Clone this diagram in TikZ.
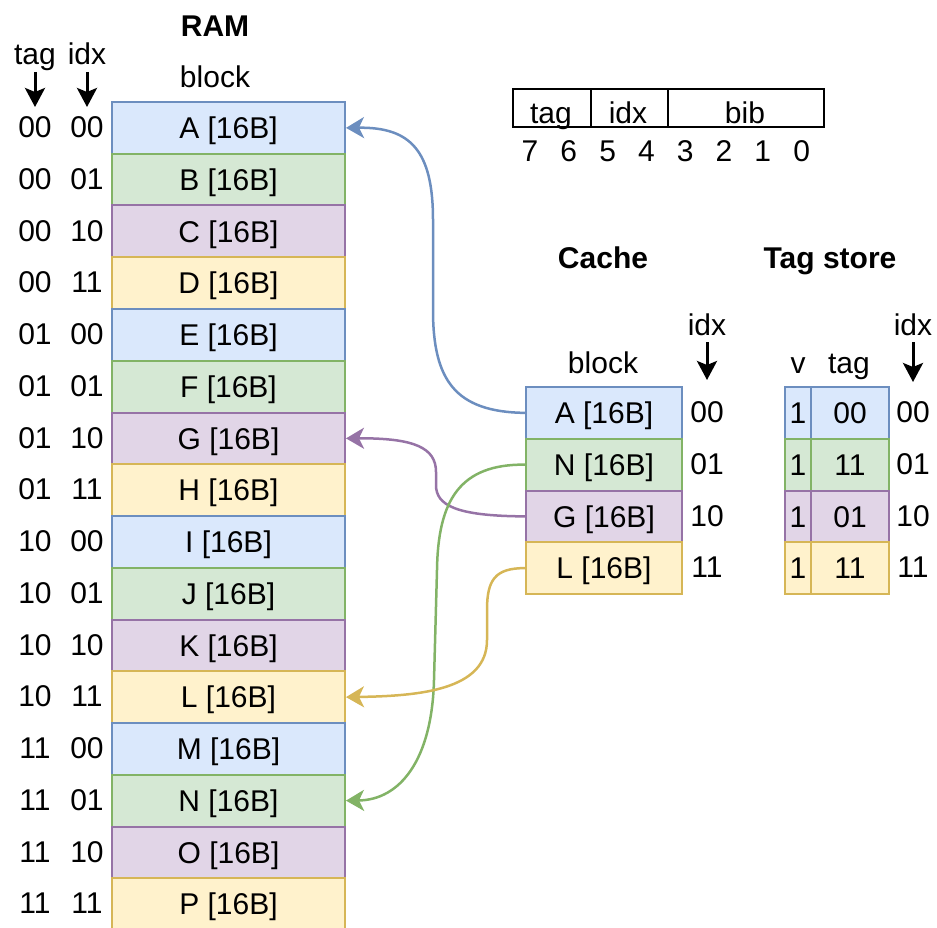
\documentclass[tikz,border=0pt]{standalone}
\usepackage{fontspec}
\setmainfont{Liberation Sans}
\usetikzlibrary{arrows.meta}
\definecolor{bluef}{HTML}{DAE8FC}\definecolor{bluel}{HTML}{6C8EBF}
\definecolor{greenf}{HTML}{D5E8D4}\definecolor{greenl}{HTML}{82B366}
\definecolor{purplef}{HTML}{E1D5E7}\definecolor{purplel}{HTML}{9673A6}
\definecolor{yellowf}{HTML}{FFF2CC}\definecolor{yellowl}{HTML}{D6B656}
\tikzset{
  cell/.style={rectangle, line width=2pt, inner sep=0pt, text height=21.5pt, text depth=0pt, anchor=north west},
  lbl/.style={inner sep=0pt, text height=21.5pt, text depth=0pt, anchor=center},
  txt/.style={inner sep=0pt, anchor=base},
  downarrow/.style={line width=3pt, -{Stealth[length=19pt,width=20pt,inset=4pt]}},
  link/.style={line width=2.5pt, -{Stealth[length=18pt,width=21pt,inset=5pt]}}
}
\begin{document}
\begin{tikzpicture}[x=1pt,y=-1pt,font=\fontsize{30}{36}\selectfont]
\useasboundingbox (0,0) rectangle (937,928);
% RAM header
\node[txt,font=\fontsize{30}{36}\selectfont\bfseries] (ramt) at (215,37) {RAM};
\node[txt] (ramb) at (215,88) {block};
\node[txt] (tagh) at (35,65) {tag};
\node[txt] (idxh) at (87,65) {idx};
\coordinate (tagA) at (35,72); \coordinate (tagB) at (35,107);
\coordinate (idxA) at (87,72); \coordinate (idxB) at (87,107);
\draw[downarrow] (tagA) -- (tagB);
\draw[downarrow] (idxA) -- (idxB);
% RAM rows
\foreach \n/\t/\d/\f/\l [count=\i from 0] in {
  A/00/00/bluef/bluel, B/00/01/greenf/greenl, C/00/10/purplef/purplel, D/00/11/yellowf/yellowl,
  E/01/00/bluef/bluel, F/01/01/greenf/greenl, G/01/10/purplef/purplel, H/01/11/yellowf/yellowl,
  I/10/00/bluef/bluel, J/10/01/greenf/greenl, K/10/10/purplef/purplel, L/10/11/yellowf/yellowl,
  M/11/00/bluef/bluel, N/11/01/greenf/greenl, O/11/10/purplef/purplel, P/11/11/yellowf/yellowl}{
  \pgfmathsetmacro\top{101+\i*51.75}
  \node[cell, fill=\f, draw=\l, minimum width=233pt, minimum height=51.75pt] (r\i) at (111,\top) {\n\ [16B]};
  \node[lbl] (rt\i) at (35,\top+25.9) {\t};
  \node[lbl] (ri\i) at (87,\top+25.9) {\d};
}
% address format
\node[draw, line width=2pt, rectangle, inner sep=0pt, minimum width=78pt, minimum height=38pt, anchor=north west] (ftag) at (512,88) {};
\node[draw, line width=2pt, rectangle, inner sep=0pt, minimum width=77pt, minimum height=38pt, anchor=north west] (fidx) at (590,88) {};
\node[draw, line width=2pt, rectangle, inner sep=0pt, minimum width=156pt, minimum height=38pt, anchor=north west] (fbib) at (667,88) {};
\node[txt] (ttag) at (551,124) {tag};
\node[txt] (tidx) at (628,124) {idx};
\node[txt] (tbib) at (745,124) {bib};
\foreach \b [count=\k from 0] in {7,6,5,4,3,2,1,0}{
  \node[txt] (bit\b) at (530+38.8*\k,162) {\b};
}
% Cache
\node[txt,font=\fontsize{30}{36}\selectfont\bfseries] (cacheh) at (603,268) {Cache};
\node[txt] (cblock) at (603,373) {block};
\node[txt] (cidx) at (707,335) {idx};
\coordinate (ciA) at (707,342); \coordinate (ciB) at (707,380);
\draw[downarrow] (ciA) -- (ciB);
\foreach \n/\d/\f/\l [count=\i from 0] in {A/00/bluef/bluel, N/01/greenf/greenl, G/10/purplef/purplel, L/11/yellowf/yellowl}{
  \pgfmathsetmacro\top{386+\i*51.75}
  \node[cell, fill=\f, draw=\l, minimum width=156pt, minimum height=51.75pt] (c\i) at (525,\top) {\n\ [16B]};
  \node[lbl] (ci\i) at (707,\top+25.9) {\d};
}
% Tag store
\node[txt,font=\fontsize{30}{36}\selectfont\bfseries] (tsh) at (830,268) {Tag store};
\node[txt] (tsv) at (798,373) {v};
\node[txt] (tstag) at (849,373) {tag};
\node[txt] (tsidx) at (913,335) {idx};
\coordinate (tiA) at (913,342); \coordinate (tiB) at (913,382);
\draw[downarrow] (tiA) -- (tiB);
\foreach \tg/\d/\f/\l [count=\i from 0] in {00/00/bluef/bluel, 11/01/greenf/greenl, 01/10/purplef/purplel, 11/11/yellowf/yellowl}{
  \pgfmathsetmacro\top{386+\i*51.75}
  \node[cell, fill=\f, draw=\l, minimum width=26pt, minimum height=51.75pt] (v\i) at (784,\top) {1};
  \node[cell, fill=\f, draw=\l, minimum width=78pt, minimum height=51.75pt] (t\i) at (810,\top) {\tg};
  \node[lbl] (ti\i) at (913,\top+25.9) {\d};
}
% connectors
\draw[link, draw=bluel] (c0.west) .. controls (455,412) and (433,380) .. (433,310) -- (433,220) .. controls (433,150) and (410,127) .. (r0.east);
\draw[link, draw=purplel] (c2.west) .. controls (455,516) and (436,505) .. (436,485) -- (436,472) .. controls (436,448) and (415,438) .. (r6.east);
\draw[link, draw=greenl] (c1.west) .. controls (460,464) and (438,500) .. (437,570) -- (434,680) .. controls (432,760) and (400,800) .. (r13.east);
\draw[link, draw=yellowl] (c3.west) .. controls (495,568) and (487,580) .. (487,610) -- (487,640) .. controls (487,690) and (420,696) .. (r11.east);
\end{tikzpicture}
\end{document}
